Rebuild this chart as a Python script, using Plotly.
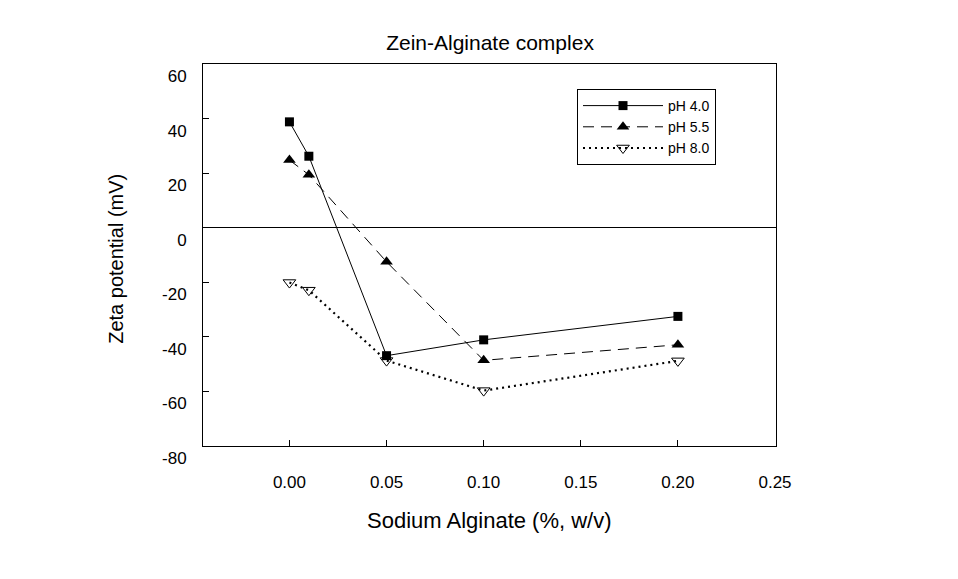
import plotly.graph_objects as go

x_alginate = [0.0, 0.01, 0.05, 0.10, 0.20]
zeta_ph40 = [38.8, 26.2, -46.9, -41.1, -32.5]
zeta_ph55 = [24.8, 19.4, -12.5, -48.6, -42.9]
zeta_ph80 = [-20.1, -22.9, -48.7, -59.7, -48.8]
series_names = ["pH 4.0", "pH 5.5", "pH 8.0"]
x_ticks = [0.00, 0.05, 0.10, 0.15, 0.20, 0.25]
x_ticklabels = ["0.00", "0.05", "0.10", "0.15", "0.20", "0.25"]
y_ticks = [-80, -60, -40, -20, 0, 20, 40, 60]
y_ticklabels = ["-80", "-60", "-40", "-20", "0", "20", "40", "60"]

FONT = "Liberation Sans, Arial, sans-serif"

fig = go.Figure()
fig.add_trace(go.Scatter(
    x=x_alginate, y=zeta_ph40, name=series_names[0], mode="lines+markers",
    line=dict(color="black", width=1, dash="solid"),
    marker=dict(symbol="square", size=9, color="black"),
))
fig.add_trace(go.Scatter(
    x=x_alginate, y=zeta_ph55, name=series_names[1], mode="lines+markers",
    line=dict(color="black", width=1, dash="11px,7px"),
    marker=dict(symbol="triangle-up", size=11, color="black"),
))
fig.add_trace(go.Scatter(
    x=x_alginate, y=zeta_ph80, name=series_names[2], mode="lines+markers",
    line=dict(color="black", width=2.2, dash="2px,4px"),
    marker=dict(symbol="triangle-down-open", size=11, color="black",
                line=dict(width=1, color="black")),
))

fig.update_layout(
    width=958, height=579,
    paper_bgcolor="white", plot_bgcolor="white",
    margin=dict(l=203, r=182, t=64, b=133),
    font=dict(family=FONT, size=16, color="black"),
    title=dict(text="Zein-Alginate complex", x=0.5115, xanchor="center",
               y=1 - 43 / 579, yanchor="middle", yref="container",
               font=dict(size=21, family=FONT, color="black")),
    showlegend=True,
    legend=dict(x=(577 - 203) / 573, y=1 - (89 - 64) / 382,
                xanchor="left", yanchor="top",
                bordercolor="black", borderwidth=1, bgcolor="white",
                font=dict(size=14, family=FONT, color="black"),
                tracegroupgap=0, itemwidth=80),
)
fig.update_xaxes(
    range=[-0.0445, 0.2505], tickvals=x_ticks, ticktext=x_ticklabels,
    ticks="inside", ticklen=6, tickcolor="black", tickwidth=1,
    showline=True, linecolor="black", linewidth=1, mirror=True,
    showgrid=False, zeroline=False, ticklabelstandoff=21,
    tickfont=dict(size=17, family=FONT, color="black"),
)
fig.update_yaxes(
    range=[-80, 60], tickvals=y_ticks, ticktext=y_ticklabels,
    ticks="inside", ticklen=6, tickcolor="black", tickwidth=1,
    showline=True, linecolor="black", linewidth=1, mirror=True,
    showgrid=False, zeroline=True, zerolinecolor="black", zerolinewidth=1,
    ticklabelstandoff=12, ticklabelshift=12,
    tickfont=dict(size=17, family=FONT, color="black"),
)
fig.add_annotation(text="Sodium Alginate (%, w/v)", xref="paper", yref="paper",
                   x=0.5, y=-74 / 382, xanchor="center", yanchor="middle",
                   showarrow=False, font=dict(size=22, family=FONT, color="black"))
fig.add_annotation(text="Zeta potential (mV)", xref="paper", yref="paper",
                   x=-87 / 573, y=0.49, xanchor="center", yanchor="middle",
                   textangle=-90, showarrow=False,
                   font=dict(size=20, family=FONT, color="black"))

fig.write_html("out.html")
